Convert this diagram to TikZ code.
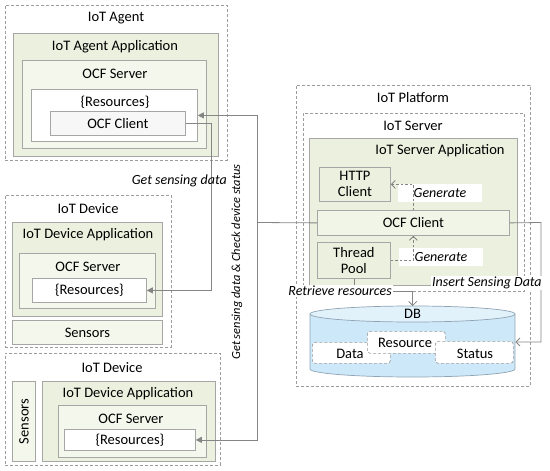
\documentclass[tikz,border=0pt]{standalone}
\usepackage{fontspec}
\setmainfont{Carlito}
\usetikzlibrary{arrows.meta}
\definecolor{appg}{HTML}{EBF1DE}
\definecolor{srvg}{HTML}{F4F7EC}
\definecolor{clig}{HTML}{F1F5E7}
\definecolor{bordg}{HTML}{A6A6A6}
\definecolor{dashg}{HTML}{9C9C9C}
\definecolor{connc}{HTML}{858585}
\definecolor{dbbody}{HTML}{CDE9F9}
\definecolor{dbtopc}{HTML}{E2F2FB}
\definecolor{dbline}{HTML}{8FA3B3}
\begin{document}
\begin{tikzpicture}[x=1pt,y=-1pt,font=\fontsize{14.5}{16}\selectfont,
  dashbox/.style={draw=dashg,dash pattern=on 3pt off 2pt,line width=0.7pt,inner sep=0pt,anchor=north west},
  appbox/.style={draw=bordg,fill=appg,line width=0.8pt,inner sep=0pt,anchor=north west},
  srvbox/.style={draw=bordg,fill=srvg,line width=0.8pt,inner sep=0pt,anchor=north west},
  resbox/.style={draw=bordg,fill=white,line width=0.8pt,inner sep=0pt,anchor=north west},
  clibox/.style={draw=bordg,fill=clig,line width=0.8pt,inner sep=0pt,anchor=north west,align=center},
  title/.style={inner sep=1pt},
  conn/.style={draw=connc,line width=0.8pt},
  dconn/.style={draw=connc,line width=0.8pt,dash pattern=on 2.5pt off 2pt,-{Straight Barb[length=4pt,width=8pt]}},
  lbl/.style={font=\fontsize{14}{16}\selectfont\itshape,inner sep=1pt},
  dbpart/.style={draw=dashg,dash pattern=on 3pt off 2pt,line width=0.7pt,fill=white,rounded corners=3pt,inner sep=0pt,anchor=north west}
]
\useasboundingbox (0,0) rectangle (550,471);

% ---------- IoT Agent ----------
\node[dashbox,minimum width=222pt,minimum height=155pt] (agent) at (5,5) {};
\node[title] (agentT) at (116,18) {IoT Agent};
\node[appbox,minimum width=205pt,minimum height=123pt] (agentapp) at (13,33) {};
\node[title] (agentappT) at (115,47) {IoT Agent Application};
\node[srvbox,minimum width=184pt,minimum height=88pt] (agentsrv) at (22,60) {};
\node[title] (agentsrvT) at (115,74) {OCF Server};
\node[resbox,minimum width=166pt,minimum height=52pt] (agentres) at (31,89) {};
\node[title] (agentresT) at (115,102) {\{Resources\}};
\node[clibox,fill=black!3,minimum width=135pt,minimum height=24pt] (agentcli) at (50,111) {OCF Client};

% ---------- IoT Device 1 ----------
\node[dashbox,minimum width=166pt,minimum height=152pt] (dev1) at (5,195) {};
\node[title] (dev1T) at (88,209) {IoT Device};
\node[appbox,minimum width=150pt,minimum height=94pt] (dev1app) at (12,222) {};
\node[title] (dev1appT) at (88,235) {IoT Device Application};
\node[srvbox,minimum width=136pt,minimum height=55pt] (dev1srv) at (19,253) {};
\node[title] (dev1srvT) at (88,267) {OCF Server};
\node[resbox,minimum width=114pt,minimum height=24pt] (dev1res) at (32,278) {\{Resources\}};
\node[srvbox,minimum width=150pt,minimum height=24pt] (dev1sen) at (12,320) {Sensors};

% ---------- IoT Device 2 ----------
\node[dashbox,minimum width=215pt,minimum height=112pt] (dev2) at (5,353) {};
\node[title] (dev2T) at (112,368) {IoT Device};
\node[srvbox,minimum width=23pt,minimum height=80pt] (dev2sen) at (12,381) {};
\node[title,rotate=90] (dev2senT) at (dev2sen.center) {Sensors};
\node[appbox,minimum width=173pt,minimum height=80pt] (dev2app) at (42,381) {};
\node[title] (dev2appT) at (128,394) {IoT Device Application};
\node[srvbox,minimum width=148pt,minimum height=52pt] (dev2srv) at (58,405) {};
\node[title] (dev2srvT) at (131,419) {OCF Server};
\node[resbox,minimum width=131pt,minimum height=21pt] (dev2res) at (64,429) {\{Resources\}};

% ---------- IoT Platform ----------
\node[dashbox,minimum width=234pt,minimum height=301pt] (plat) at (296,85) {};
\node[title] (platT) at (413,98) {IoT Platform};
\node[dashbox,minimum width=221pt,minimum height=178pt] (serv) at (303,113) {};
\node[title] (servT) at (413,126) {IoT Server};
\node[appbox,minimum width=208pt,minimum height=147pt] (servapp) at (309,138) {};
\node[title] (servappT) at (440,151) {IoT Server Application};
\node[clibox,fill=appg,minimum width=71pt,minimum height=34pt] (http) at (319,167) {HTTP\\Client};
\node[clibox,minimum width=192pt,minimum height=25pt] (ocfc) at (317,210) {OCF Client};
\node[clibox,fill=appg,minimum width=73pt,minimum height=36pt] (pool) at (317,242) {Thread\\Pool};

% Generate labels (white backgrounds)
\node[lbl,fill=white,minimum width=84pt,minimum height=18pt] (gen1) at (440,193) {Generate};
\node[lbl,fill=white,minimum width=84pt,minimum height=18pt] (gen2) at (441,257) {Generate};
\draw[dconn] (ocfc.north) |- (http.east);
\draw[dconn] (pool.east) -| (ocfc.south);

% ---------- DB cylinder ----------
\node[inner sep=0pt,minimum width=205pt,minimum height=71pt,anchor=north west] (db) at (310,306) {};
\fill[dbbody] (310,314) rectangle (515,369);
\fill[dbbody] (412.5,369) ellipse [x radius=102.5, y radius=8];
\draw[dbline,line width=0.7pt] (310,314) -- (310,369) arc[start angle=180,end angle=0,x radius=102.5,y radius=8] -- (515,314);
\draw[dbline,line width=0.7pt,fill=dbtopc] (412.5,314) ellipse [x radius=102.5, y radius=8];
\node[title] (dbT) at (412.5,314) {DB};
\node[dbpart,minimum width=78pt,minimum height=21pt] (data) at (312,342) {};
\node[title] (dataT) at (350,354) {Data};
\node[dbpart,minimum width=78pt,minimum height=22pt] (resc) at (367,331) {};
\node[title] (rescT) at (405,343) {Resource};
\node[dbpart,minimum width=78pt,minimum height=22pt] (stat) at (435,341) {};
\node[title] (statT) at (475,354) {Status};

% ---------- connectors ----------
\draw[conn,-{Triangle[length=6pt,width=6pt]}] (agentcli.east) -- ++(26,0) |- (dev1res.east);
\coordinate (jn) at (257,222.5);
\draw[conn] (ocfc.west) -- (jn);
\draw[conn,-{Triangle[length=6pt,width=6pt]}] (jn) |- (agentres.east);
\draw[conn,-{Triangle[length=6pt,width=6pt]}] (jn) |- (dev2res.east);
\draw[conn,-{Straight Barb[length=4pt,width=8pt]}] (pool.south) |- (db.north |- 0,291) -- (db.north);
\draw[conn,-{Straight Barb[length=4pt,width=8pt]}] (ocfc.east) -- (541,222.5) |- (db.east |- 0,342);

% ---------- connector labels ----------
\node[lbl,anchor=east] (lblget) at (228,181) {Get sensing data};
\node[lbl,font=\fontsize{12.4}{14}\selectfont\itshape,rotate=90] (lblcheck) at (237,262) {Get sensing data \& Check device status};
\node[lbl,fill=white,anchor=east] (lblret) at (393,291) {Retrieve resources};
\node[lbl,fill=white,anchor=west] (lblins) at (431,283) {Insert Sensing Data};
\end{tikzpicture}
\end{document}
